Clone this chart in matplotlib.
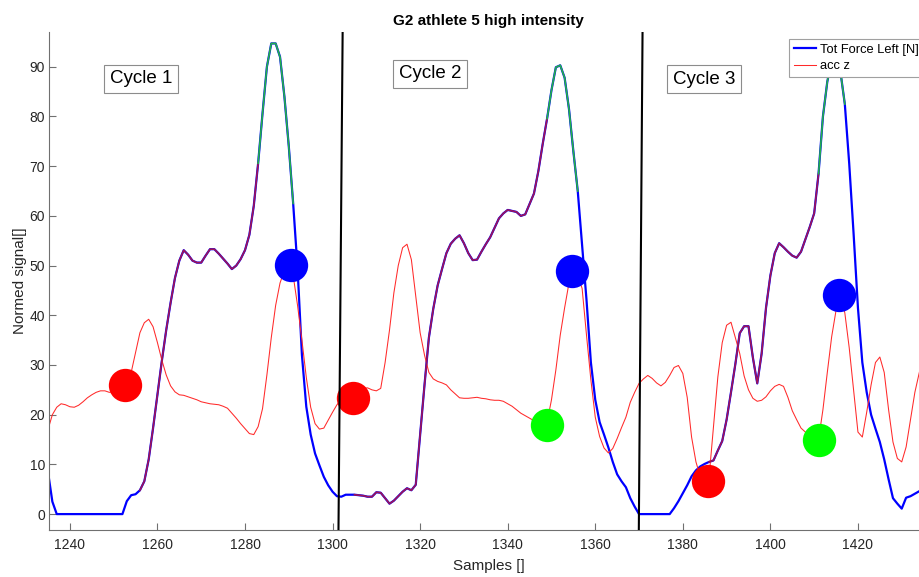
import numpy as np
import matplotlib.pyplot as plt

plt.rcParams['font.family'] = ['Liberation Sans', 'DejaVu Sans']

samples = np.arange(1235, 1437)

force_left = np.array([
    8.5, 2.5, 0, 0, 0, 0, 0, 0, 0, 0,
    0, 0, 0, 0, 0, 0, 0, 0, 2.6, 3.8,
    4.0, 4.8, 6.6, 11, 17.3, 24, 30.8, 37, 42.5, 47.5,
    51, 53.1, 52.2, 51, 50.6, 50.6, 52, 53.3, 53.3, 52.4,
    51.4, 50.4, 49.3, 50, 51.3, 53.1, 56.2, 62, 70.6, 80.6,
    90, 94.7, 94.7, 92, 84, 74, 62.5, 49.5, 32, 21.6,
    16, 12.2, 9.8, 7.5, 5.8, 4.5, 3.6, 3.5, 3.9, 3.9,
    3.9, 3.8, 3.7, 3.5, 3.5, 4.4, 4.3, 3.2, 2.1, 2.7,
    3.6, 4.5, 5.2, 4.8, 5.9, 16, 26, 35.5, 41.3, 46,
    49.3, 52.5, 54.4, 55.4, 56.1, 54.5, 52.5, 51.1, 51.2, 52.8,
    54.3, 55.7, 57.6, 59.5, 60.5, 61.2, 61, 60.8, 60.0, 60.3,
    62.4, 64.5, 69, 74.5, 79.6, 85.3, 89.9, 90.3, 87.8, 81.5,
    73, 65, 54, 43.1, 30.5, 23, 18.5, 16, 13.4, 10.5,
    8.0, 6.6, 5.4, 3.2, 1.5, 0, 0, 0, 0, 0,
    0, 0, 0, 1.2, 2.6, 4.2, 5.8, 7.6, 8.8, 9.6,
    10.1, 10.5, 10.8, 12.8, 14.7, 19, 24.5, 30.2, 36.4, 37.8,
    37.8, 31.5, 26.3, 32.3, 41.5, 48, 52.5, 54.5, 53.7, 52.8,
    52, 51.6, 52.8, 55.3, 57.8, 60.5, 68.5, 80, 87, 91.5,
    92, 89, 82.5, 70.6, 56.5, 41.5, 30.5, 24.5, 20, 17.2,
    14.5, 11, 7, 3.2, 2.1, 1.1, 3.3, 3.6, 4.1, 4.6,
    5.1, 5.5,
])

acc_z = np.array([
    17.0, 20, 21.5, 22.2, 22.0, 21.6, 21.5, 21.9, 22.6, 23.4,
    24.0, 24.5, 24.8, 24.8, 24.5, 24.6, 25.0, 25.6, 26.5, 28.5,
    32.5, 36.5, 38.5, 39.2, 37.7, 34.5, 31, 28, 25.8, 24.6,
    24.0, 23.9, 23.6, 23.3, 23.0, 22.6, 22.4, 22.2, 22.1, 22.0,
    21.7, 21.3, 20.3, 19.3, 18.2, 17.2, 16.2, 16.0, 17.6, 21.2,
    28, 35.5, 42, 46.5, 49, 50, 48, 42, 35, 27.5,
    21.5, 18.2, 17.1, 17.3, 18.9, 20.5, 22, 23, 23.6, 24,
    24.5, 25, 25.3, 25.4, 25.0, 24.8, 25.3, 30.5, 37, 44.5,
    50, 53.6, 54.3, 51.2, 43.8, 36.5, 32, 28.5, 27.2, 26.7,
    26.4, 26, 25, 24.2, 23.4, 23.3, 23.3, 23.4, 23.5, 23.3,
    23.2, 23.0, 22.9, 22.9, 22.7, 22.2, 21.7, 21, 20.3, 19.8,
    19.3, 18.8, 18.4, 18.1, 18.5, 23, 29, 36, 41.5, 46.5,
    49, 48, 45.4, 36, 27, 19.5, 15.6, 13.3, 12.3, 13.2,
    15.2, 17.4, 19.5, 22.5, 24.5, 26.3, 27.2, 27.9, 27.3, 26.4,
    25.8, 26.5, 27.9, 29.5, 29.9, 28.3, 23.5, 15.5, 10.5, 7.5,
    6.6, 7.5, 17.5, 27.6, 34.5, 38, 38.6, 35.5, 32.3, 27.8,
    25, 23.3, 22.7, 22.9, 23.6, 24.8, 25.7, 26.1, 25.7, 23.5,
    20.8, 19, 17.3, 16.5, 15.5, 15, 15, 21, 28.5, 35.7,
    41, 44, 40.5, 33.5, 25, 16.5, 15.5, 20.5, 26, 30.5,
    31.6, 28.5, 21, 14.5, 11.2, 10.5, 13.5, 19, 24.5, 28.5,
    32, 34,
])

# per cycle: start of purple part, start of green part, end of green part
phase_bounds = [(1256, 1283, 1291), (1305, 1349, 1356), (1386, 1411, 1417)]

red_x = [1252.5, 1304.6, 1385.7]
red_y = [26.0, 23.3, 6.6]
green_x = [1348.9, 1411.0]
green_y = [17.9, 14.9]
blue_x = [1290.4, 1354.8, 1415.6]
blue_y = [50.1, 48.9, 44.1]

cut_bottom = [1301.35, 1369.95]
cut_top = [1302.3, 1370.8]

cycle_labels = ['Cycle 1', 'Cycle 2', 'Cycle 3']
cycle_x = [1256.2, 1322.3, 1384.9]
cycle_y = [87.6, 88.6, 87.5]

y_lo, y_hi = -3.2, 97.0

fig = plt.figure(figsize=(9.2, 5.77), dpi=100)
ax = fig.add_axes([49.3 / 920, 1 - 530 / 577, (928 - 49.3) / 920, (530 - 32) / 577])

force_line, = ax.plot(samples, force_left, color='#0000ff', lw=1.6, zorder=2)
acc_line, = ax.plot(samples, acc_z, color='#ff2a2a', lw=0.75, zorder=2.5)

for p0, g0, g1 in phase_bounds:
    m = (samples >= p0) & (samples <= g0)
    ax.plot(samples[m], force_left[m], color='#9e1458', lw=1.2, zorder=3)
    m = (samples >= g0) & (samples <= g1)
    ax.plot(samples[m], force_left[m], color='#22b04a', lw=1.2, zorder=3)

ax.plot(red_x, red_y, 'o', color='#ff0000', ms=24, mec='none', zorder=4)
ax.plot(green_x, green_y, 'o', color='#00ff00', ms=24, mec='none', zorder=4)
ax.plot(blue_x, blue_y, 'o', color='#0000ff', ms=24, mec='none', zorder=4)

for b, t in zip(cut_bottom, cut_top):
    ax.plot([b, t], [y_lo, y_hi], color='black', lw=1.5, zorder=5)

for lab, cx, cy in zip(cycle_labels, cycle_x, cycle_y):
    ax.text(cx, cy, lab, fontsize=13.5, ha='center', va='center', zorder=6,
            bbox=dict(boxstyle='square,pad=0.3', fc='white', ec='#8c8c8c', lw=0.8))

ax.set_xlim(1235.3, 1436)
ax.set_ylim(y_lo, y_hi)
ax.set_xticks(np.arange(1240, 1436, 20))
ax.set_yticks(np.arange(0, 91, 10))

for side in ['top', 'right']:
    ax.spines[side].set_visible(False)
for side in ['left', 'bottom']:
    ax.spines[side].set_color('#707070')
    ax.spines[side].set_linewidth(0.8)
ax.tick_params(direction='in', length=5, width=0.8, color='#707070',
               labelcolor='#262626', labelsize=10)
ax.tick_params(axis='x', pad=6)
ax.tick_params(axis='y', pad=3)

ax.set_title('G2 athlete 5 high intensity', fontsize=11, fontweight='bold', pad=5)
ax.set_xlabel('Samples []', fontsize=11, color='#262626', labelpad=5)
ax.set_ylabel('Normed signal[]', fontsize=11, color='#262626', labelpad=2)

leg = ax.legend([force_line, acc_line], ['Tot Force Left [N]', 'acc z'],
                loc='upper right', bbox_to_anchor=(923 / 920, 1 - 39 / 577),
                bbox_transform=fig.transFigure, borderaxespad=0, fontsize=9.3,
                fancybox=False, framealpha=1, edgecolor='#a0a0a0',
                handlelength=1.7, handletextpad=0.3, labelspacing=0.35,
                borderpad=0.35)
leg.get_frame().set_linewidth(0.8)
leg.set_zorder(7)

fig.savefig('out.png', dpi=100)
